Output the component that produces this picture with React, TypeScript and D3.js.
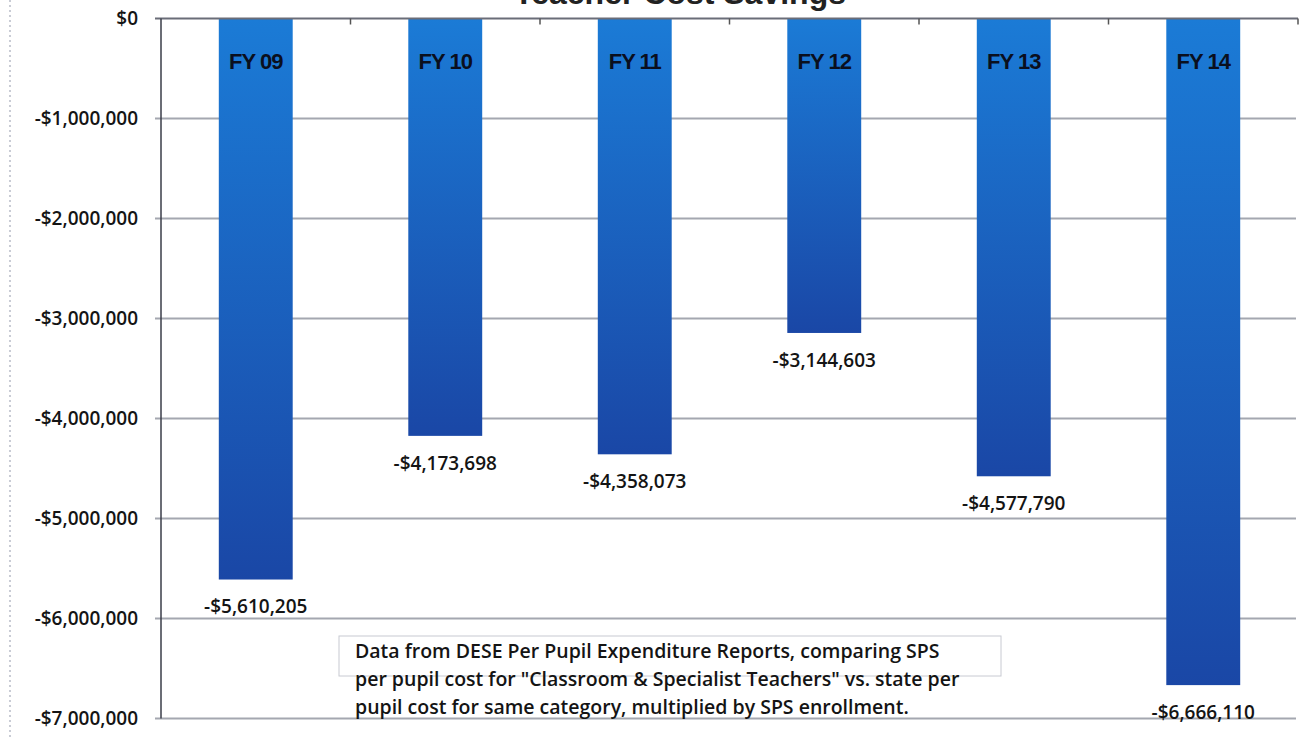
import * as d3 from 'd3';
import { useEffect, useRef } from 'react';

const categories = ['FY 09', 'FY 10', 'FY 11', 'FY 12', 'FY 13', 'FY 14'];
const savings = [-5610205, -4173698, -4358073, -3144603, -4577790, -6666110];
const yTicks = [0, -1000000, -2000000, -3000000, -4000000, -5000000, -6000000, -7000000];
const noteLines = [
  'Data from DESE Per Pupil Expenditure Reports, comparing SPS',
  'per pupil cost for "Classroom & Specialist Teachers" vs. state per',
  'pupil cost for same category, multiplied by SPS enrollment.',
];

const WIDTH = 1311;
const HEIGHT = 738;

const money = (v: number) => (v < 0 ? '-$' : '$') + d3.format(',')(Math.abs(v));

const App = () => {
  const ref = useRef<SVGSVGElement | null>(null);

  useEffect(() => {
    if (!ref.current) return;
    const svg = d3.select(ref.current);
    svg.selectAll('*').remove();

    const left = 161;
    const right = 1298;

    const x = d3.scaleBand<string>().domain(categories).range([left, right]).paddingInner(0.61).paddingOuter(0.305);
    const y = d3.scaleLinear().domain([0, -7000000]).range([18.5, 718.5]);

    // bar gradient, lighter at top
    const defs = svg.append('defs');
    const grad = defs
      .append('linearGradient')
      .attr('id', 'barGrad')
      .attr('x1', 0)
      .attr('y1', 0)
      .attr('x2', 0)
      .attr('y2', 1);
    grad.append('stop').attr('offset', '0%').attr('stop-color', '#1b7bd6');
    grad.append('stop').attr('offset', '100%').attr('stop-color', '#1a47a6');

    // outer frame (faint dotted left edge)
    svg
      .append('line')
      .attr('x1', 10)
      .attr('x2', 10)
      .attr('y1', 0)
      .attr('y2', HEIGHT)
      .attr('stroke', '#b8bcc8')
      .attr('stroke-width', 1.5)
      .attr('stroke-dasharray', '2 3');

    // title, mostly cut off at top of the scan
    svg
      .append('text')
      .attr('x', 680)
      .attr('y', 4)
      .attr('text-anchor', 'middle')
      .attr('font-family', 'Liberation Sans')
      .attr('font-weight', 700)
      .attr('font-size', 32)
      .attr('fill', '#222')
      .text('Teacher Cost Savings');

    // gridlines
    svg
      .append('g')
      .selectAll('line')
      .data(yTicks.slice(1))
      .enter()
      .append('line')
      .attr('x1', left - 6)
      .attr('x2', right - 2)
      .attr('y1', (d) => y(d))
      .attr('y2', (d) => y(d))
      .attr('stroke', '#a4a7b0')
      .attr('stroke-width', 2);

    // y axis labels
    svg
      .append('g')
      .selectAll('text')
      .data(yTicks)
      .enter()
      .append('text')
      .attr('x', 138)
      .attr('y', (d) => y(d))
      .attr('dy', '0.35em')
      .attr('text-anchor', 'end')
      .attr('font-family', 'Open Sans')
      .attr('font-weight', 600)
      .attr('font-size', 19)
      .attr('fill', '#141414')
      .text((d) => money(d));

    // bars
    svg
      .append('g')
      .selectAll('rect')
      .data(savings)
      .enter()
      .append('rect')
      .attr('x', (_d, i) => x(categories[i]) as number)
      .attr('y', y(0))
      .attr('width', x.bandwidth())
      .attr('height', (d) => y(d) - y(0))
      .attr('fill', 'url(#barGrad)');

    // top axis line and left axis line
    svg
      .append('line')
      .attr('x1', left - 6)
      .attr('x2', right)
      .attr('y1', y(0))
      .attr('y2', y(0))
      .attr('stroke', '#6a6d78')
      .attr('stroke-width', 2);
    svg
      .append('line')
      .attr('x1', left)
      .attr('x2', left)
      .attr('y1', y(0))
      .attr('y2', y(-7000000))
      .attr('stroke', '#3a3d48')
      .attr('stroke-width', 1.5);

    // category tick marks on the top axis
    const step = x.step();
    svg
      .append('g')
      .selectAll('line')
      .data(categories)
      .enter()
      .append('line')
      .attr('x1', (d) => (x(d) as number) + x.bandwidth() + (step - x.bandwidth()) / 2)
      .attr('x2', (d) => (x(d) as number) + x.bandwidth() + (step - x.bandwidth()) / 2)
      .attr('y1', y(0))
      .attr('y2', y(0) + 6)
      .attr('stroke', '#555')
      .attr('stroke-width', 1.5);

    // category labels inside bars
    svg
      .append('g')
      .selectAll('text')
      .data(categories)
      .enter()
      .append('text')
      .attr('x', (d) => (x(d) as number) + x.bandwidth() / 2)
      .attr('y', 69)
      .attr('text-anchor', 'middle')
      .attr('font-family', 'Liberation Sans')
      .attr('font-weight', 700)
      .attr('font-size', 22)
      .attr('letter-spacing', -1)
      .attr('fill', '#0a0f1e')
      .text((d) => d);

    // value labels below bars
    svg
      .append('g')
      .selectAll('text')
      .data(savings)
      .enter()
      .append('text')
      .attr('x', (_d, i) => (x(categories[i]) as number) + x.bandwidth() / 2)
      .attr('y', (d) => y(d) + 27)
      .attr('dy', '0.35em')
      .attr('text-anchor', 'middle')
      .attr('font-family', 'Open Sans')
      .attr('font-weight', 600)
      .attr('font-size', 19)
      .attr('fill', '#141414')
      .text((d) => money(d));

    // annotation box
    svg
      .append('rect')
      .attr('x', 339)
      .attr('y', 636)
      .attr('width', 662)
      .attr('height', 40)
      .attr('fill', '#fff')
      .attr('stroke', '#c8cad2')
      .attr('stroke-width', 1);
    svg
      .append('g')
      .selectAll('text')
      .data(noteLines)
      .enter()
      .append('text')
      .attr('x', 355)
      .attr('y', (_d, i) => 658 + i * 28)
      .attr('font-family', 'Open Sans')
      .attr('font-weight', 600)
      .attr('font-size', 19.5)
      .attr('fill', '#141414')
      .text((d) => d);
  }, []);

  return (
    <svg
      ref={ref}
      width={WIDTH}
      height={HEIGHT}
      style={{ position: 'absolute', left: 0, top: 0, background: '#fff' }}
    />
  );
};

export default App;
